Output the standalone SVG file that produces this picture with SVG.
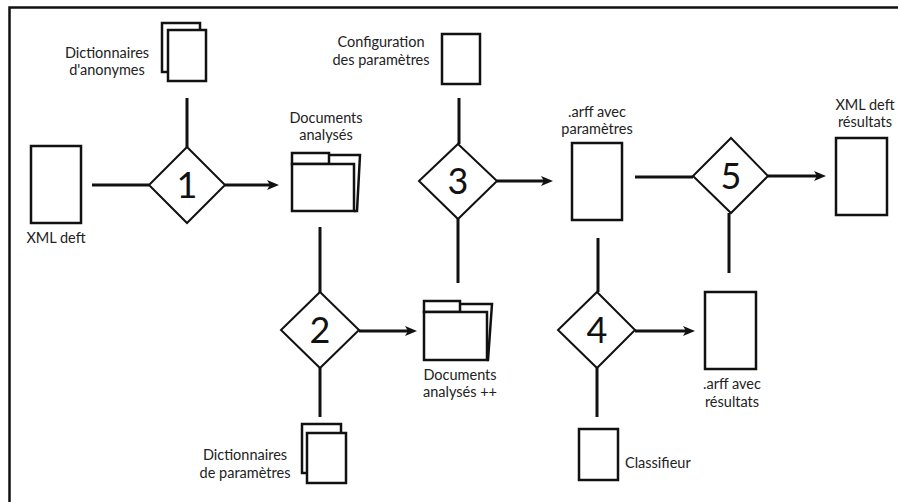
<svg xmlns="http://www.w3.org/2000/svg" width="898" height="502" viewBox="0 0 898 502">
  <style>
    .frame { fill: none; stroke: #111; stroke-width: 2.5; }
    .doc { fill: #fff; stroke: #111; stroke-width: 2.5; }
    .step { fill: #fff; stroke: #111; stroke-width: 2; }
    .num { font-family: Lato, "Liberation Sans", sans-serif; font-size: 36px; fill: #111; text-anchor: middle; }
    .lbl { font-family: Lato, "Liberation Sans", sans-serif; font-size: 14.5px; fill: #222; }
    .mid { text-anchor: middle; }
    .end { text-anchor: end; }
    .conn { fill: none; stroke: #111; stroke-width: 3; }
    .arrow { marker-end: url(#head); }
  </style>
  <defs>
    <marker id="head" viewBox="0 0 12 10" refX="4" refY="5" markerWidth="12" markerHeight="10" markerUnits="userSpaceOnUse" orient="auto">
      <path d="M0,0 L12,5 L0,10 L3,5 z" fill="#111"/>
    </marker>
  </defs>

  <rect width="898" height="502" fill="#fff"/>
  <!-- outer frame: left and top edges -->
  <path class="frame" d="M9.5,502 V7.5 H898"/>

  <!-- connectors -->
  <g id="connectors">
    <path class="conn" d="M92,185 H149"/>
    <path class="conn arrow" d="M225,185 H271"/>
    <path class="conn" d="M187,98 V147"/>
    <path class="conn" d="M320,227 V293"/>
    <path class="conn" d="M320,368 V417"/>
    <path class="conn arrow" d="M359,331 H409"/>
    <path class="conn" d="M459,98 V144"/>
    <path class="conn" d="M458,219 V283"/>
    <path class="conn arrow" d="M497,181 H545"/>
    <path class="conn" d="M598,238 V292"/>
    <path class="conn" d="M597,368 V417"/>
    <path class="conn arrow" d="M635,331 H687"/>
    <path class="conn" d="M635,177 H693"/>
    <path class="conn arrow" d="M768,176 H818"/>
    <path class="conn" d="M729,213 V273"/>
  </g>

  <!-- steps -->
  <g id="step1">
    <polygon class="step" points="187,147 225,185 187,223 149,185"/>
    <text class="num" x="187" y="198">1</text>
  </g>
  <g id="step2">
    <polygon class="step" points="320,292 359,330 320,368 281,330"/>
    <text class="num" x="320" y="343">2</text>
  </g>
  <g id="step3">
    <polygon class="step" points="458,144 497,181 458,219 419,181"/>
    <text class="num" x="458" y="194">3</text>
  </g>
  <g id="step4">
    <polygon class="step" points="597,292 635,330 597,368 558,330"/>
    <text class="num" x="597" y="343">4</text>
  </g>
  <g id="step5">
    <polygon class="step" points="731,138 768,176 731,213 693,176"/>
    <text class="num" x="731" y="189">5</text>
  </g>

  <!-- documents -->
  <g id="xml-deft">
    <rect class="doc" x="31" y="146" width="50" height="77"/>
    <text class="lbl mid" x="56" y="243">XML deft</text>
  </g>
  <g id="dict-anonymes">
    <rect class="doc" x="162" y="23" width="38" height="49"/>
    <rect class="doc" x="168" y="30" width="38" height="51"/>
    <text class="lbl mid" x="107" y="58">Dictionnaires</text>
    <text class="lbl mid" x="107" y="75">d'anonymes</text>
  </g>
  <g id="docs-analyses">
    <path class="doc" d="M329,155 H360 L357,211 H354"/>
    <rect class="doc" x="292" y="153" width="37" height="11"/>
    <rect class="doc" x="292" y="164" width="62" height="47"/>
    <text class="lbl mid" x="326" y="123">Documents</text>
    <text class="lbl mid" x="326" y="140">analysés</text>
  </g>
  <g id="dict-parametres">
    <rect class="doc" x="302" y="424" width="39" height="49"/>
    <rect class="doc" x="307" y="433" width="39" height="50"/>
    <text class="lbl mid" x="245" y="460">Dictionnaires</text>
    <text class="lbl mid" x="245" y="478">de paramètres</text>
  </g>
  <g id="docs-analyses-plus">
    <path class="doc" d="M460,304 H492 L488,360 H487"/>
    <rect class="doc" x="424" y="301" width="36" height="11"/>
    <rect class="doc" x="424" y="312" width="63" height="48"/>
    <text class="lbl mid" x="460" y="380">Documents</text>
    <text class="lbl mid" x="460" y="397">analysés ++</text>
  </g>
  <g id="config-parametres">
    <rect class="doc" x="442" y="34" width="38" height="50"/>
    <text class="lbl mid" x="381" y="47">Configuration</text>
    <text class="lbl mid" x="381" y="65">des paramètres</text>
  </g>
  <g id="arff-parametres">
    <rect class="doc" x="572" y="143" width="50" height="77"/>
    <text class="lbl mid" x="597" y="117">.arff avec</text>
    <text class="lbl mid" x="597" y="134">paramètres</text>
  </g>
  <g id="xml-resultats">
    <rect class="doc" x="836" y="138" width="51" height="77"/>
    <text class="lbl mid" x="865" y="110">XML deft</text>
    <text class="lbl mid" x="865" y="127">résultats</text>
  </g>
  <g id="arff-resultats">
    <rect class="doc" x="705" y="292" width="51" height="77"/>
    <text class="lbl mid" x="732" y="389">.arff avec</text>
    <text class="lbl mid" x="732" y="407">résultats</text>
  </g>
  <g id="classifieur">
    <rect class="doc" x="579" y="429" width="39" height="51"/>
    <text class="lbl" x="625" y="468">Classifieur</text>
  </g>
</svg>
